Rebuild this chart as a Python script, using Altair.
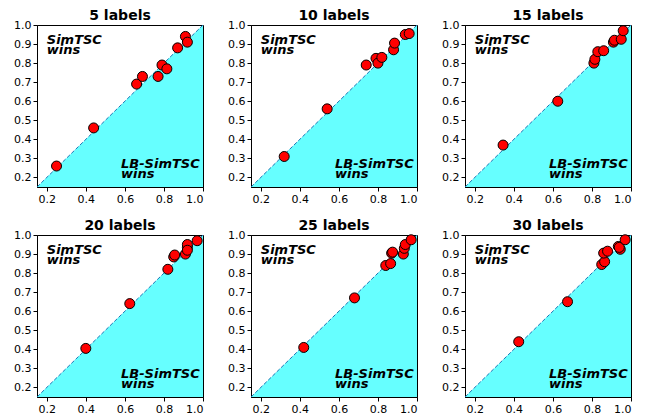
import altair as alt
import pandas as pd

titles = ["5 labels", "10 labels", "15 labels", "20 labels", "25 labels", "30 labels"]

x5 = [0.25, 0.44, 0.66, 0.69, 0.77, 0.79, 0.815, 0.87, 0.91, 0.92]
y5 = [0.26, 0.46, 0.69, 0.73, 0.73, 0.79, 0.77, 0.88, 0.94, 0.91]
x10 = [0.32, 0.54, 0.74, 0.79, 0.80, 0.82, 0.88, 0.885, 0.94, 0.96]
y10 = [0.31, 0.56, 0.79, 0.825, 0.80, 0.83, 0.87, 0.905, 0.95, 0.955]
x15 = [0.345, 0.625, 0.81, 0.815, 0.83, 0.86, 0.91, 0.915, 0.95, 0.96]
y15 = [0.37, 0.60, 0.80, 0.82, 0.86, 0.865, 0.91, 0.92, 0.925, 0.97]
x20 = [0.40, 0.625, 0.82, 0.85, 0.855, 0.91, 0.92, 0.92, 0.92, 0.97]
y20 = [0.405, 0.64, 0.82, 0.885, 0.895, 0.90, 0.935, 0.95, 0.92, 0.97]
x25 = [0.42, 0.68, 0.84, 0.865, 0.87, 0.875, 0.93, 0.935, 0.94, 0.97]
y25 = [0.41, 0.67, 0.84, 0.85, 0.905, 0.91, 0.90, 0.93, 0.95, 0.975]
x30 = [0.425, 0.675, 0.85, 0.865, 0.86, 0.88, 0.935, 0.945, 0.94, 0.97]
y30 = [0.44, 0.65, 0.845, 0.86, 0.905, 0.915, 0.94, 0.925, 0.935, 0.975]

xs_all = [x5, x10, x15, x20, x25, x30]
ys_all = [y5, y10, y15, y20, y25, y30]

lo, hi = 0.15, 1.0
x_ticks = [0.2, 0.4, 0.6, 0.8, 1.0]
y_ticks = [0.2, 0.3, 0.4, 0.5, 0.6, 0.7, 0.8, 0.9, 1.0]

upper_text = ["SimTSC", "wins"]
lower_text = ["LB-SimTSC", "wins"]
upper_pos = (0.2, 0.90)
lower_pos = (0.58, 0.25)

FONT = "DejaVu Sans"


def panel(title, xs, ys):
    sx = alt.Scale(domain=[lo, hi], nice=False, zero=False)
    sy = alt.Scale(domain=[lo, hi], nice=False, zero=False)
    xax = alt.Axis(values=x_ticks, format=".1f", title=None, grid=False, labelOverlap=False)
    yax = alt.Axis(values=y_ticks, format=".1f", title=None, grid=False, labelOverlap=False)
    X = alt.X("x:Q", scale=sx, axis=xax)
    Y = alt.Y("y:Q", scale=sy, axis=yax)

    diag = pd.DataFrame({"x": [lo, hi], "y": [lo, hi], "y2": [lo, lo]})
    pts = pd.DataFrame({"x": xs, "y": ys})

    area = alt.Chart(diag).mark_area(color="#66ffff", opacity=1).encode(x=X, y=Y, y2="y2:Q")
    line = alt.Chart(diag).mark_line(color="#1f77b4", strokeDash=[4, 2], strokeWidth=1).encode(x=X, y=Y)
    dots = alt.Chart(pts).mark_point(
        shape="circle", filled=True, fill="#ff0000", stroke="black",
        strokeWidth=1, size=100, opacity=1
    ).encode(x=X, y=Y)

    ann = pd.DataFrame({
        "x": [upper_pos[0], lower_pos[0]],
        "y": [upper_pos[1], lower_pos[1]],
        "t": [upper_text, lower_text],
    })
    txt = alt.Chart(ann).mark_text(
        font=FONT, fontSize=13, fontWeight="bold", fontStyle="italic",
        align="left", baseline="alphabetic", lineHeight=10, color="black"
    ).encode(x=X, y=Y, text="t")

    return alt.layer(area, line, dots, txt).properties(
        width=166, height=162,
        title=alt.TitleParams(title, font=FONT, fontSize=14, fontWeight="bold",
                              offset=-4, color="black"),
    )


panels = [panel(t, x, y) for t, x, y in zip(titles, xs_all, ys_all)]
chart = alt.concat(*panels, columns=3, spacing=48, bounds="flush").properties(
    padding={"left": 5, "top": 0, "right": 0, "bottom": 0}
).configure_view(stroke="black", strokeWidth=1).configure_axis(
    domainColor="black", tickColor="black", labelColor="black",
    labelFont=FONT, labelFontSize=11, tickSize=4, labelPadding=2, domainWidth=1,
)

chart.save("out.html", embed_options={"renderer": "svg", "actions": False})
